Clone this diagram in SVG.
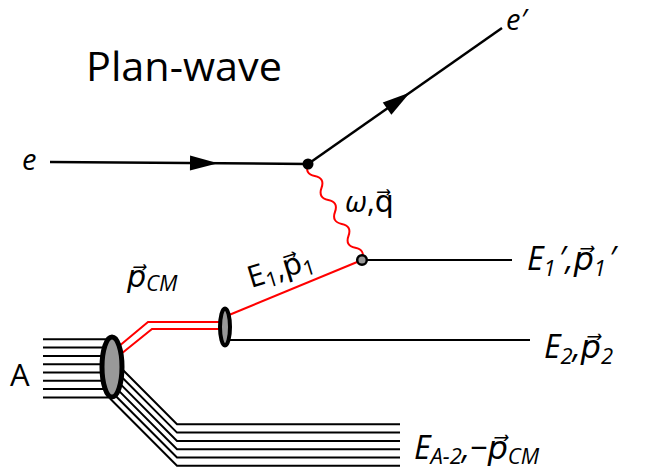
<svg xmlns="http://www.w3.org/2000/svg" width="646" height="470" viewBox="0 0 646 470">
  <style>
    .t { font-family: "Open Sans", "DejaVu Sans", sans-serif; fill: #000; }
    .it { font-style: italic; }
    .ln { stroke: #000; stroke-width: 2; fill: none; }
    .el { stroke: #000; stroke-width: 2.5; fill: none; }
    .red { stroke: #ff0000; stroke-width: 2; fill: none; }
    .blob { fill: #999999; stroke: #000; }
  </style>
  <defs>
    <path id="arr" d="M0,0 L-28,-7.5 L-28,7.5 Z" fill="#000"/>
  </defs>

  <g id="connectors">
    <line class="el" x1="50" y1="162" x2="308" y2="164"/>
    <use href="#arr" transform="translate(218,163.3) rotate(0.4)"/>
    <line class="el" x1="308" y1="164" x2="502" y2="28"/>
    <use href="#arr" transform="translate(410,92.5) rotate(-35)"/>
    <path class="red" transform="translate(308,164) rotate(60.6)" d="M0,0 q6.9,8 13.75,0 t13.75,0 t13.75,0 t13.75,0 t13.75,0 t13.75,0 t13.75,0 t13.75,0"/>
    <line class="red" x1="229" y1="315" x2="362" y2="260"/>
    <line class="ln" x1="362" y1="260" x2="512" y2="260"/>
    <line class="ln" x1="225" y1="340" x2="530" y2="340"/>
    <polyline class="red" points="112,352 148,322 222,322"/>
    <polyline class="red" points="116,358 152,329 222,329"/>
    <g class="ln">
      <line x1="43" y1="339.3" x2="110" y2="339.3"/>
      <line x1="43" y1="347.6" x2="110" y2="347.6"/>
      <line x1="43" y1="355.9" x2="110" y2="355.9"/>
      <line x1="43" y1="364.2" x2="110" y2="364.2"/>
      <line x1="43" y1="372.5" x2="110" y2="372.5"/>
      <line x1="43" y1="380.8" x2="110" y2="380.8"/>
      <line x1="43" y1="389.1" x2="110" y2="389.1"/>
      <line x1="43" y1="397.4" x2="110" y2="397.4"/>
    </g>
    <g class="ln">
      <polyline points="110,357 177,424.3 400,424.3"/>
      <polyline points="110,365.3 177,432.6 400,432.6"/>
      <polyline points="110,373.6 177,440.9 400,440.9"/>
      <polyline points="110,381.9 177,449.2 400,449.2"/>
      <polyline points="110,390.2 177,457.5 400,457.5"/>
      <polyline points="110,398.5 177,465.8 400,465.8"/>
    </g>
  </g>

  <g id="vertex-e">
    <circle cx="308" cy="164" r="5.5" fill="#000"/>
  </g>
  <g id="vertex-n">
    <circle cx="362" cy="260" r="4.8" fill="#999999" stroke="#000" stroke-width="2.5"/>
  </g>
  <g id="nucleus-A">
    <ellipse class="blob" cx="112" cy="367" rx="10" ry="30" stroke-width="5"/>
  </g>
  <g id="pair">
    <ellipse class="blob" cx="225" cy="327" rx="5" ry="18.5" stroke-width="4"/>
  </g>

  <g id="labels">
    <text class="t" x="86" y="81" font-size="40" textLength="196" lengthAdjust="spacingAndGlyphs">Plan-wave</text>
    <text class="t it" x="22" y="170" font-size="29">e</text>
    <text class="t it" x="506" y="30" font-size="29">e′</text>
    <text class="t" x="345" y="212" font-size="30"><tspan font-style="italic">ω</tspan>,q⃗</text>
    <text class="t" font-size="30" transform="translate(251,288) rotate(-17)">E<tspan font-size="21" dy="5">1</tspan><tspan dy="-5">,p⃗</tspan><tspan font-size="21" dy="5">1</tspan></text>
    <text class="t it" x="527" y="270" font-size="32">E<tspan font-size="22" dy="6">1</tspan><tspan dy="-6" dx="3">′,p⃗</tspan><tspan font-size="22" dy="6">1</tspan><tspan dy="-6" dx="3">′</tspan></text>
    <text class="t it" x="544" y="358" font-size="32">E<tspan font-size="22" dy="6">2</tspan><tspan dy="-6">,p⃗</tspan><tspan font-size="22" dy="6">2</tspan></text>
    <text class="t it" x="414" y="459" font-size="32">E<tspan font-size="22" dy="5">A-2</tspan><tspan dy="-5">,−p⃗</tspan><tspan font-size="22" dy="5">CM</tspan></text>
    <text class="t it" x="127" y="287" font-size="30">p⃗<tspan font-size="22" dy="4">CM</tspan></text>
    <text class="t" x="10" y="386" font-size="31">A</text>
  </g>
</svg>
